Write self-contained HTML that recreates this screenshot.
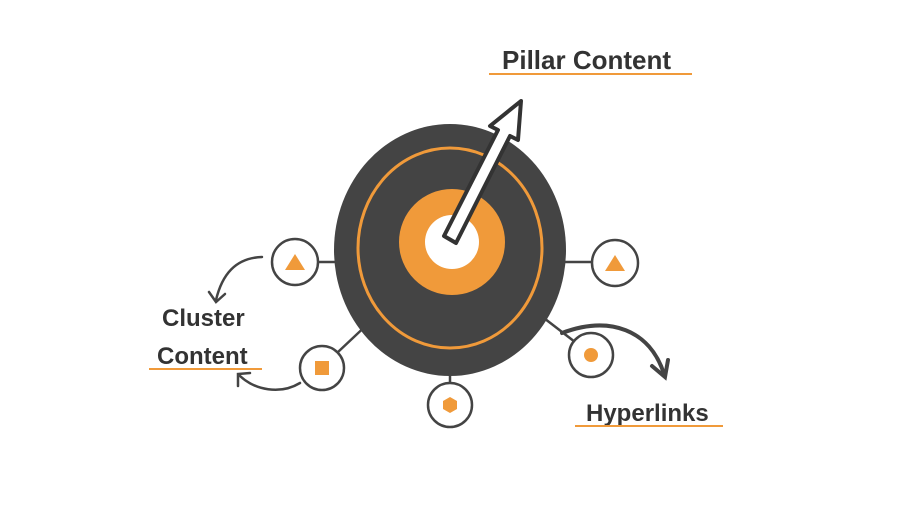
<html><body style="margin:0;background:#fff;width:922px;height:513px;overflow:hidden">
<svg width="922" height="513" viewBox="0 0 922 513" xmlns="http://www.w3.org/2000/svg">
<g stroke="#444" stroke-width="2.5" fill="none">
<line x1="318" y1="262" x2="340" y2="262"/>
<line x1="560" y1="262" x2="592" y2="262"/>
<line x1="338" y1="352" x2="372" y2="320"/>
<line x1="450" y1="375" x2="450" y2="382"/>
<line x1="540" y1="315" x2="575" y2="342"/>
</g>
<ellipse cx="450" cy="250" rx="116" ry="126" fill="#444"/>
<ellipse cx="450" cy="248" rx="92" ry="100" fill="none" stroke="#f09a3a" stroke-width="3"/>
<circle cx="452" cy="242" r="53" fill="#f09a3a"/>
<circle cx="452" cy="242" r="27" fill="#fff"/>
<g stroke="#444" stroke-width="2.5" fill="#fff">
<circle cx="295" cy="262" r="23"/>
<circle cx="615" cy="263" r="23"/>
<circle cx="322" cy="368" r="22"/>
<circle cx="450" cy="405" r="22"/>
<circle cx="591" cy="355" r="22"/>
</g>
<g fill="#f09a3a">
<polygon points="285,270 305,270 295,254"/>
<polygon points="605,271 625,271 615,255"/>
<rect x="315" y="361" width="14" height="14"/>
<polygon points="450,397 457,401 457,409 450,413 443,409 443,401"/>
<circle cx="591" cy="355" r="7"/>
</g>
<polygon points="444,236 456,243 510,136 518,140 521,101 490,126 498,130" fill="#fff" stroke="#333" stroke-width="4" stroke-linejoin="round"/>
<g stroke="#444" stroke-width="2.5" fill="none" stroke-linecap="round">
<path d="M262,257 C235,258 222,275 216,300"/><path d="M209,292 L216,302 L225,294"/>
<path d="M300,383 C280,395 255,390 240,376"/><path d="M238,386 L238,374 L250,373"/>
<path d="M562,333 C610,315 650,330 664,374" stroke-width="4"/><path d="M652,366 L665,377 L668,360" stroke-width="4"/>
</g>
<g font-family="Liberation Sans, sans-serif" font-weight="bold" fill="#333" font-size="26">
<text x="502" y="69">Pillar Content</text>
<text x="162" y="326" font-size="24">Cluster</text>
<text x="157" y="364" font-size="24">Content</text>
<text x="586" y="421" font-size="24">Hyperlinks</text>
</g>
<g stroke="#f09a3a" stroke-width="2">
<line x1="489" y1="74" x2="692" y2="74"/>
<line x1="149" y1="369" x2="262" y2="369"/>
<line x1="575" y1="426" x2="723" y2="426"/>
</g>
</svg>
</body></html>
